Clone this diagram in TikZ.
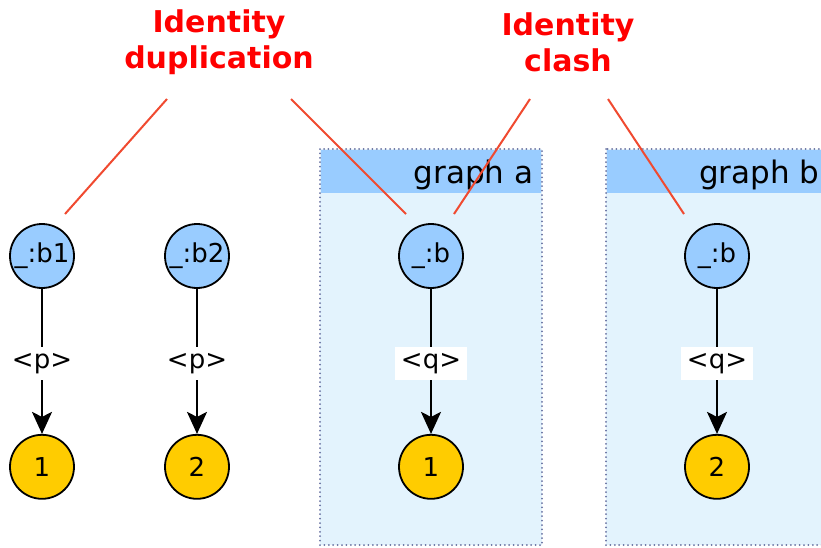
\documentclass[tikz,border=0pt]{standalone}
\usepackage{fontspec}
\setmainfont{DejaVu Sans}
\usetikzlibrary{arrows.meta,positioning}
\definecolor{bcol}{HTML}{99CCFF}
\definecolor{lcol}{HTML}{FFCC00}
\definecolor{gcol}{HTML}{E3F3FD}
\definecolor{dcol}{HTML}{6670A0}
\definecolor{rcol}{HTML}{F04A30}
\tikzstyle{bnode}=[circle,draw,line width=1.8pt,fill=bcol,minimum size=64pt,inner sep=0pt,font=\fontsize{26}{26}\selectfont]
\tikzstyle{lnode}=[circle,draw,line width=1.8pt,fill=lcol,minimum size=64pt,inner sep=0pt,font=\fontsize{26}{26}\selectfont]
\tikzstyle{edge}=[-{Stealth[length=22pt,width=20pt,inset=5pt]},line width=2pt,draw]
\tikzstyle{prop}=[fill=white,inner xsep=6pt,inner ysep=6pt,font=\fontsize{26}{26}\selectfont]
\tikzstyle{graphbox}=[fill=gcol,draw=dcol,line width=2pt,line cap=round,dash pattern=on 0pt off 4.4pt]
\tikzstyle{problem}=[text=red,align=center,font=\bfseries\fontsize{30}{36}\selectfont]
\tikzstyle{pointer}=[draw=rcol,line width=2pt]

\begin{document}
\begin{tikzpicture}[x=1pt,y=-1pt]
        \useasboundingbox (0,0) rectangle (821,547);
        \clip (0,0) rectangle (821,547);

        % the two graphs
        \path [graphbox] (320,149) rectangle (542,545);
        \fill [bcol] (321,150) rectangle (541,193);
        \node [anchor=base east,font=\fontsize{31}{31}\selectfont] (ga) at (537,183) {graph a};
        \path [graphbox] (606,149) rectangle (840,545);
        \fill [bcol] (607,150) rectangle (840,193);
        \node [anchor=base east,font=\fontsize{31}{31}\selectfont] (gb) at (823,183) {graph b};

        \node [bnode] (b1) at (42,256) {\_:b1};
        \node [bnode] (b2) at (197,256) {\_:b2};
        \node [bnode] (ba) at (431,256) {\_:b};
        \node [bnode] (bb) at (717,256) {\_:b};
        \node [lnode,below=145pt of b1] (o1) {1};
        \node [lnode,below=145pt of b2] (o2) {2};
        \node [lnode,below=145pt of ba] (oa) {1};
        \node [lnode,below=145pt of bb] (ob) {2};

        \path [edge] (b1) -- node [prop,yshift=-2pt] {<p>} (o1);
        \path [edge] (b2) -- node [prop,yshift=-2pt] {<p>} (o2);
        \path [edge] (ba) -- node [prop,yshift=-2pt] {<q>} (oa);
        \path [edge] (bb) -- node [prop,yshift=-2pt] {<q>} (ob);

        % problems
        \node [problem] (dup) at (219,42) {Identity\\duplication};
        \node [problem] (clash) at (568,42) {Identity\\clash};
        \coordinate (d1) at (167,99);
        \coordinate (d2) at (291,99);
        \coordinate (c1) at (530,99);
        \coordinate (c2) at (608,99);
        \coordinate (e1) at (65,214);
        \coordinate (e2) at (406,214);
        \coordinate (e3) at (454,214);
        \coordinate (e4) at (684,214);
        \path [pointer] (d1) -- (e1);
        \path [pointer] (d2) -- (e2);
        \path [pointer] (c1) -- (e3);
        \path [pointer] (c2) -- (e4);
      \end{tikzpicture}
\end{document}
